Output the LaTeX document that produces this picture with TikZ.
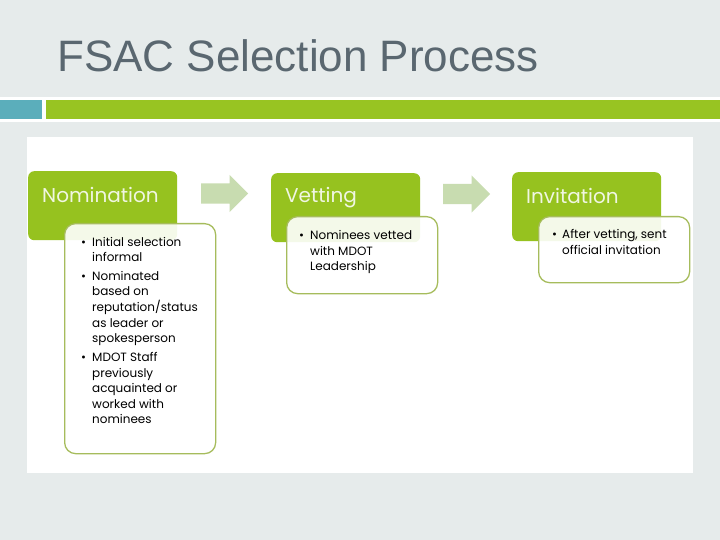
\documentclass[tikz,border=0pt]{standalone}
\usepackage{fontspec}
\setmainfont{Liberation Sans}
\newfontfamily\gothic{Poppins}
\usetikzlibrary{positioning,shapes.arrows}

\definecolor{slidebg}{HTML}{E6EBEB}
\definecolor{barteal}{HTML}{5BAEBB}
\definecolor{bargreen}{HTML}{98C422}
\definecolor{titlegray}{HTML}{5A6770}
\definecolor{hdrgreen}{HTML}{96C21F}
\definecolor{hdrtext}{HTML}{F0F6E2}
\definecolor{bodyline}{HTML}{A6BC5C}
\definecolor{arrowgreen}{HTML}{C8DCB0}

\begin{document}
\begin{tikzpicture}[x=1pt,y=-1pt,
	header/.style={fill=hdrgreen, rounded corners=6pt, anchor=north west,
		minimum width=149pt, minimum height=69pt, inner sep=0pt},
	hdrtitle/.style={anchor=base west, inner sep=0pt, text=hdrtext,
		font=\gothic\fontsize{20}{24}\selectfont},
	body/.style={draw=bodyline, line width=1.3pt, fill=white, fill opacity=.9,
		rounded corners=11pt, anchor=north west, minimum width=151pt, inner sep=0pt},
	bodylist/.style={anchor=base west, inner sep=0pt, text=black,
		font=\gothic\fontsize{12}{15.5}\selectfont},
	stepto/.style={single arrow, fill=arrowgreen, minimum height=47pt,
		single arrow head extend=8.5pt, inner xsep=0pt, inner ysep=10pt,
		anchor=west}]
	\useasboundingbox (0,0) rectangle (720,540);
	\fill[slidebg] (0,0) rectangle (720,540);
	
	% title and bars
	\node[anchor=base west, inner sep=0pt, text=titlegray,
		font=\fontsize{44}{50}\selectfont] (title) at (57,72) {FSAC Selection Process};
	\fill[white] (0,97) rectangle (720,122);
	\fill[barteal] (0,100) rectangle (42,119);
	\fill[bargreen] (46,100) rectangle (720,119);
	\fill[white] (27,137) rectangle (693,473);
	
	% headers
	\node[header] (nom) at (28,171) {};
	\node[header] (vet) at (271,173) {};
	\node[header] (inv) at (512,172) {};
	\node[hdrtitle] (nomt) at ([xshift=14pt,yshift=-32pt]nom.north west) {Nomination};
	\node[hdrtitle] (vett) at ([xshift=14pt,yshift=-30pt]vet.north west) {Vetting};
	\node[hdrtitle] (invt) at ([xshift=14pt,yshift=-32pt]inv.north west) {Invitation};
	
	% bodies
	\node[body, minimum height=230pt] (nomb) at (64,223) {};
	\node[body, minimum height=77pt] (vetb) at (286,216) {};
	\node[body, minimum height=66pt] (invb) at (538,216) {};
	
	\node[bodylist] (noml) at ([xshift=17pt,yshift=-23pt]nomb.north west) {%
		\begin{tabular}[t]{@{}p{11pt}@{}l@{}}
			\textbullet & Initial selection\\
			& informal\\[3.5pt]
			\textbullet & Nominated\\
			& based on\\
			& reputation/status\\
			& as leader or\\
			& spokesperson\\[3.5pt]
			\textbullet & MDOT Staff\\
			& previously\\
			& acquainted or\\
			& worked with\\
			& nominees
		\end{tabular}};
	\node[bodylist] (vetl) at ([xshift=13pt,yshift=-24pt]vetb.north west) {%
		\begin{tabular}[t]{@{}p{11pt}@{}l@{}}
			\textbullet & Nominees vetted\\
			& with MDOT\\
			& Leadership
		\end{tabular}};
	\node[bodylist] (invl) at ([xshift=14pt,yshift=-23pt]invb.north west) {%
		\begin{tabular}[t]{@{}p{10pt}@{}l@{}}
			\textbullet & After vetting, sent\\
			& official invitation
		\end{tabular}};
	
	% arrows between steps
	\node[stepto] (arr1) at (201,193.5) {};
	\node[stepto] (arr2) at (443,194) {};
\end{tikzpicture}
\end{document}
